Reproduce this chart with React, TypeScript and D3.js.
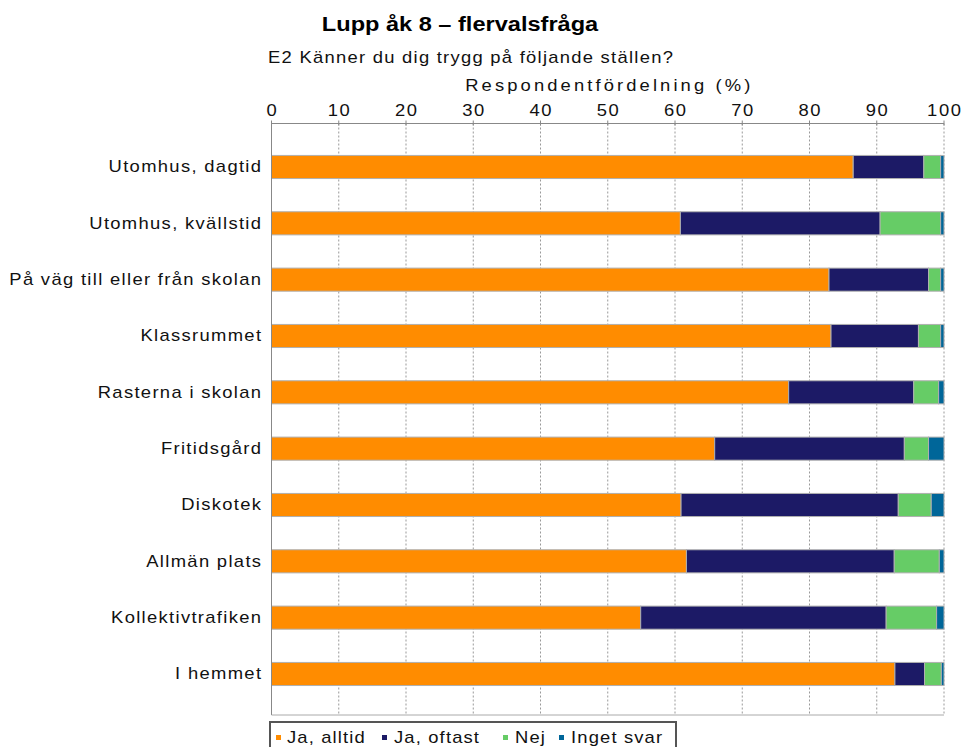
import React from "react";
import * as d3 from "d3";

const categories = [
  "Utomhus, dagtid",
  "Utomhus, kvällstid",
  "På väg till eller från skolan",
  "Klassrummet",
  "Rasterna i skolan",
  "Fritidsgård",
  "Diskotek",
  "Allmän plats",
  "Kollektivtrafiken",
  "I hemmet",
];
const seriesNames = ["Ja, alltid", "Ja, oftast", "Nej", "Inget svar"];
const jaAlltid = [86.5, 60.8, 82.9, 83.2, 76.9, 65.9, 60.9, 61.7, 54.9, 92.7];
const jaOftast = [10.5, 29.7, 14.8, 13.0, 18.6, 28.2, 32.3, 30.9, 36.5, 4.4];
const nej = [2.5, 9.0, 1.8, 3.3, 3.7, 3.6, 4.9, 6.7, 7.5, 2.5];
const ingetSvar = [0.5, 0.5, 0.5, 0.5, 0.8, 2.3, 1.9, 0.7, 1.1, 0.4];
const xTicks = [0, 10, 20, 30, 40, 50, 60, 70, 80, 90, 100];
const colors = ["#FF8C00", "#1C1A66", "#66CC66", "#006699"];

const FONT = "'Liberation Sans', Arial, Helvetica, sans-serif";
const SX = 1.15;

function SText(props: {
  x: number;
  y: number;
  anchor?: "start" | "middle" | "end";
  size: number;
  spacing?: number;
  bold?: boolean;
  fill?: string;
  children: React.ReactNode;
}) {
  const { x, y, anchor = "start", size, spacing = 0, bold, fill = "#111", children } = props;
  let dx = 0;
  if (anchor === "end") dx = spacing;
  if (anchor === "middle") dx = spacing / 2;
  return (
    <text
      transform={`translate(${x},${y}) scale(${SX},1)`}
      x={dx}
      y={0}
      textAnchor={anchor}
      fontFamily={FONT}
      fontSize={size}
      fontWeight={bold ? "bold" : "normal"}
      letterSpacing={spacing}
      fill={fill}
    >
      {children}
    </text>
  );
}

export default function App() {
  const W = 962, H = 747;
  const left = 271.5, right = 944, top = 123.5, bottom = 715;
  const x = d3.scaleLinear().domain([0, 100]).range([left, right]);
  const y = d3
    .scaleBand<string>()
    .domain(categories)
    .range([top, bottom])
    .paddingInner(0.59)
    .paddingOuter(0.545)
    .align(0.52);

  const rows = categories.map((c, i) => ({
    cat: c,
    v: [jaAlltid[i], jaOftast[i], nej[i], ingetSvar[i]],
  }));
  const stacked = d3
    .stack<any>()
    .keys([0, 1, 2, 3] as any)
    .value((d: any, k: any) => d.v[k])(rows);

  const legendItems = [
    { sx: 276, tx: 287 },
    { sx: 382, tx: 394 },
    { sx: 503, tx: 515 },
    { sx: 559, tx: 571 },
  ];

  return (
    <svg
      width={W}
      height={H}
      style={{ position: "absolute", left: 0, top: 0, background: "#fff" }}
    >
      <rect x={0} y={0} width={W} height={H} fill="#fff" />
      <SText x={460} y={31} anchor="middle" size={20.5} bold fill="#000">
        Lupp åk 8 – flervalsfråga
      </SText>
      <SText x={268} y={63} size={16} spacing={1.1}>
        E2 Känner du dig trygg på följande ställen?
      </SText>
      <SText x={(left + right) / 2} y={91} anchor="middle" size={16} spacing={2.7}>
        Respondentfördelning (%)
      </SText>

      {/* tick labels */}
      {xTicks.map((t) => (
        <SText key={"tl" + t} x={x(t)} y={116} anchor="middle" size={16} spacing={1.5}>
          {t}
        </SText>
      ))}

      {/* grid lines */}
      {xTicks.slice(1).map((t) => (
        <line
          key={"g" + t}
          x1={x(t)}
          x2={x(t)}
          y1={top}
          y2={bottom}
          stroke="#999"
          strokeWidth={1}
          strokeDasharray="2,2"
        />
      ))}

      {/* bars */}
      {stacked.map((layer, si) =>
        layer.map((d: any, i: number) => (
          <rect
            key={"b" + si + "-" + i}
            x={x(d[0])}
            y={y(categories[i])!}
            width={Math.max(0, x(d[1]) - x(d[0]))}
            height={y.bandwidth()}
            fill={colors[si]}
            stroke="#b0b0b0"
            strokeWidth={1}
          />
        ))
      )}

      {/* axes frame */}
      <line x1={left} x2={right} y1={top} y2={top} stroke="#888" strokeWidth={1} />
      <line x1={left} x2={left} y1={top} y2={bottom} stroke="#888" strokeWidth={1} />
      <line x1={left} x2={right} y1={bottom} y2={bottom} stroke="#aaa" strokeWidth={1} />
      {xTicks.map((t) => (
        <line
          key={"tk" + t}
          x1={x(t)}
          x2={x(t)}
          y1={top - 3}
          y2={top + 2}
          stroke="#888"
          strokeWidth={1}
        />
      ))}

      {/* category labels */}
      {categories.map((c) => (
        <SText
          key={"c" + c}
          x={261}
          y={y(c)! + y.bandwidth() / 2 + 5.5}
          anchor="end"
          size={16}
          spacing={1.15}
        >
          {c}
        </SText>
      ))}

      {/* legend */}
      <rect x={270} y={722} width={406} height={40} fill="#fff" stroke="#555" strokeWidth={2} />
      {seriesNames.map((n, i) => (
        <g key={"l" + i}>
          <rect x={legendItems[i].sx} y={735} width={5} height={5} fill={colors[i]} />
          <SText x={legendItems[i].tx} y={743} size={16} spacing={1.0}>
            {n}
          </SText>
        </g>
      ))}
    </svg>
  );
}
